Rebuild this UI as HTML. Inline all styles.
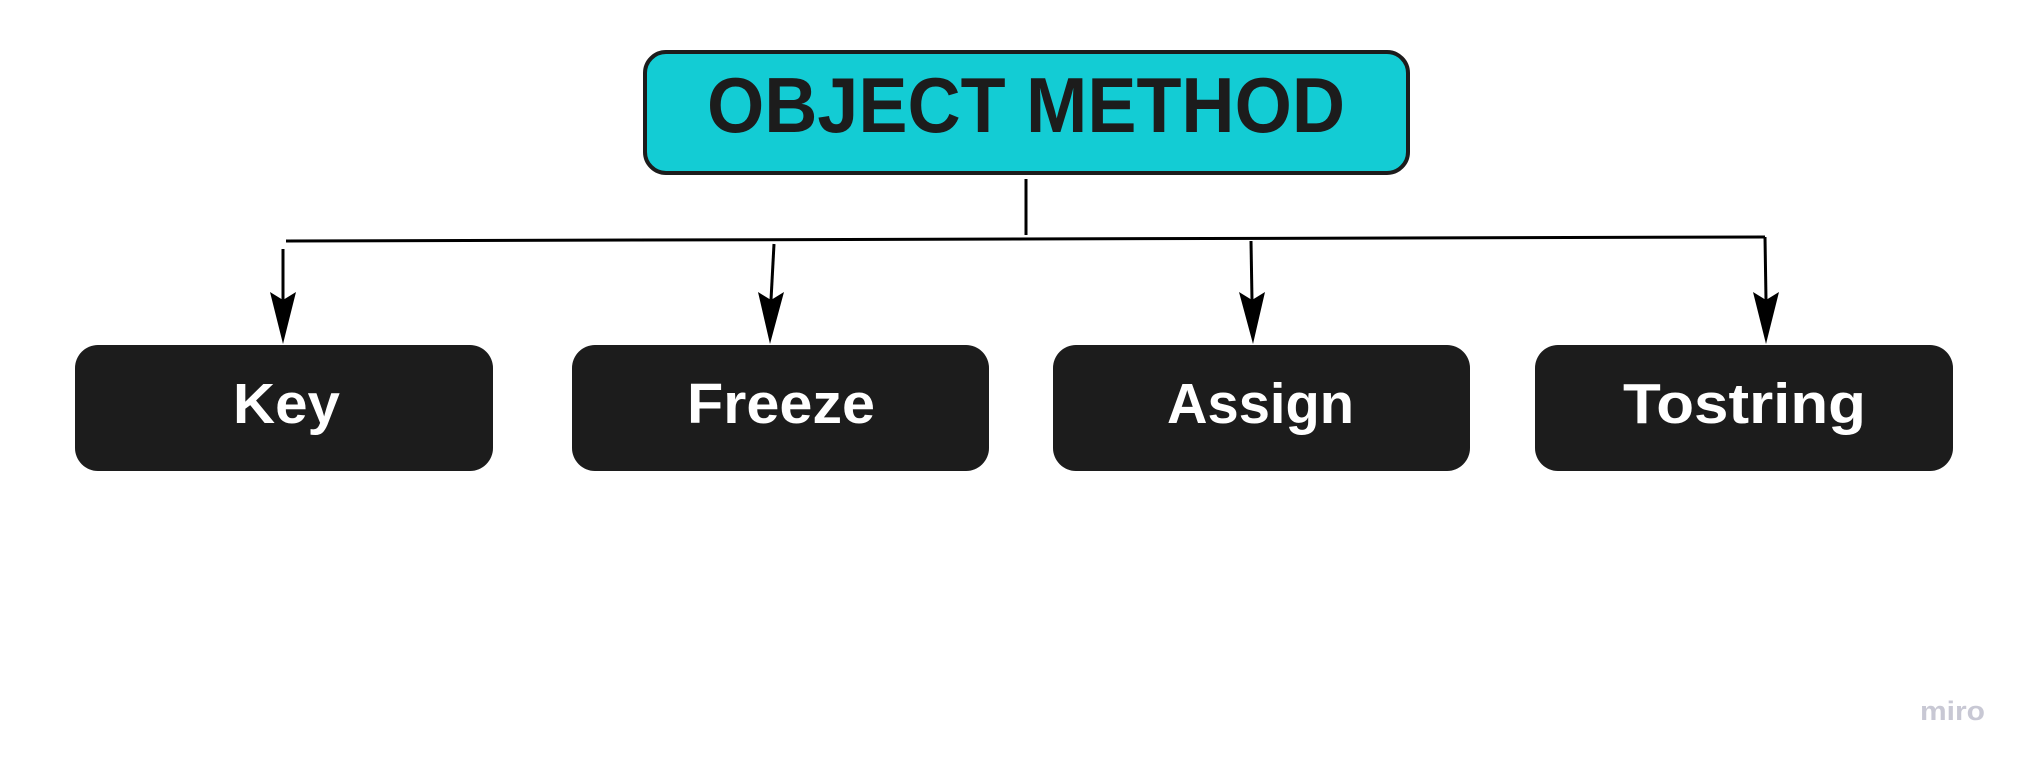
<!DOCTYPE html>
<html><head><style>
html,body{margin:0;padding:0;background:#fff;}
svg{display:block;}
</style></head><body>
<svg width="2033" height="768" viewBox="0 0 2033 768" xmlns="http://www.w3.org/2000/svg">
<rect x="645" y="52" width="763" height="121" rx="21" fill="#13ccd4" stroke="#1c1c1c" stroke-width="4"/>
<text x="1026" y="132" text-anchor="middle" font-family="Liberation Sans, sans-serif" font-weight="bold" font-size="78" fill="#1c1c1c" textLength="638" lengthAdjust="spacingAndGlyphs">OBJECT METHOD</text>
<g stroke="#000" stroke-width="3" fill="none">
<line x1="1026" y1="179" x2="1026" y2="235"/>
<line x1="286" y1="241" x2="1765" y2="237"/>
<line x1="283" y1="249" x2="283" y2="300"/>
<line x1="774" y1="244" x2="771" y2="300"/>
<line x1="1251" y1="241" x2="1252" y2="300"/>
<line x1="1765" y1="237" x2="1766" y2="300"/>
</g>
<g fill="#000">
<path d="M270 292 L283 300 L296 292 L283 344 Z"/>
<path d="M758 292 L771 300 L784 292 L770 344 Z"/>
<path d="M1239 292 L1252 300 L1265 292 L1253 344 Z"/>
<path d="M1753 292 L1766 300 L1779 292 L1766 344 Z"/>
</g>
<g fill="#1c1c1c">
<rect x="75" y="345" width="418" height="126" rx="23"/>
<rect x="572" y="345" width="417" height="126" rx="23"/>
<rect x="1053" y="345" width="417" height="126" rx="23"/>
<rect x="1535" y="345" width="418" height="126" rx="23"/>
</g>
<g font-family="Liberation Sans, sans-serif" font-weight="bold" font-size="57" fill="#fff" lengthAdjust="spacingAndGlyphs">
<text x="233" y="423" textLength="107" lengthAdjust="spacingAndGlyphs">Key</text>
<text x="687" y="423" textLength="188" lengthAdjust="spacingAndGlyphs">Freeze</text>
<text x="1167" y="423" textLength="187" lengthAdjust="spacingAndGlyphs">Assign</text>
<text x="1623" y="423" textLength="243" lengthAdjust="spacingAndGlyphs">Tostring</text>
</g>
<text x="1920" y="720" font-family="Liberation Sans, sans-serif" font-weight="bold" font-size="27" fill="#c8c8d4" textLength="65" lengthAdjust="spacingAndGlyphs">miro</text>
</svg>
</body></html>
